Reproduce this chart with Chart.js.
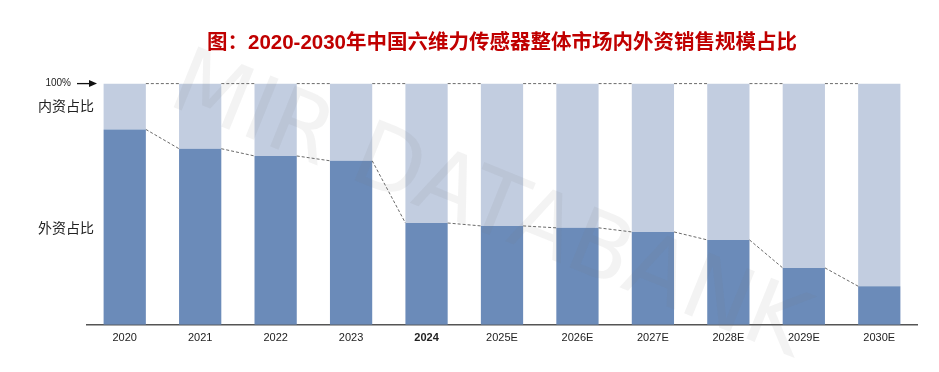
<!DOCTYPE html>
<html>
<head>
<meta charset="utf-8">
<script src="https://cdn.jsdelivr.net/npm/chart.js@4"></script>
<style>
  html, body { margin: 0; padding: 0; background: #fff; }
  #wrap { width: 939px; height: 372px; }
</style>
</head>
<body>
<div id="wrap"><canvas id="chart"></canvas></div>
<script>
const years = ["2020", "2021", "2022", "2023", "2024", "2025E", "2026E", "2027E", "2028E", "2029E", "2030E"];
// foreign share (%)
const foreignShare = [81, 73, 70, 68, 42.2, 41, 40.2, 38.5, 35.2, 23.6, 16];
const domesticShare = foreignShare.map((v) => 100 - v);

const titleText = "图：2020-2030年中国六维力传感器整体市场内外资销售规模占比";

// dashed connectors + left side labels + watermark
const extras = {
  id: "extras",
  afterDatasetsDraw(chart) {
    const ctx = chart.ctx;
    const dark = chart.getDatasetMeta(0).data;
    const light = chart.getDatasetMeta(1).data;
    ctx.save();
    ctx.strokeStyle = "#444";
    ctx.lineWidth = 0.8;
    ctx.setLineDash([3, 2]);
    for (let i = 0; i < dark.length - 1; i++) {
      const a = dark[i], b = dark[i + 1];
      const hw = a.width / 2;
      ctx.beginPath();
      ctx.moveTo(a.x + hw, a.y);
      ctx.lineTo(b.x - hw, b.y);
      ctx.stroke();
      const la = light[i], lb = light[i + 1];
      ctx.beginPath();
      ctx.moveTo(la.x + hw, la.y);
      ctx.lineTo(lb.x - hw, lb.y);
      ctx.stroke();
    }
    ctx.restore();

    // watermark
    ctx.save();
    ctx.translate(488, 209);
    ctx.rotate(22 * Math.PI / 180);
    ctx.font = "90px 'DejaVu Sans', sans-serif";
    ctx.fillStyle = "rgba(120,120,120,0.09)";
    ctx.textAlign = "center";
    ctx.textBaseline = "middle";
    ctx.fillText("MIR DATABANK", 0, 0);
    ctx.restore();

    // left labels
    const y = chart.scales.y;
    const top = y.getPixelForValue(100);
    ctx.save();
    ctx.fillStyle = "#222";
    ctx.textBaseline = "middle";
    ctx.font = "10px 'Liberation Sans', Arial, sans-serif";
    ctx.textAlign = "right";
    ctx.fillText("100%", 71, top);
    ctx.strokeStyle = "#111";
    ctx.lineWidth = 1.3;
    ctx.beginPath();
    ctx.moveTo(77, top);
    ctx.lineTo(92, top);
    ctx.stroke();
    ctx.fillStyle = "#111";
    ctx.beginPath();
    ctx.moveTo(97, top);
    ctx.lineTo(89, top - 3.5);
    ctx.lineTo(89, top + 3.5);
    ctx.closePath();
    ctx.fill();
    ctx.fillStyle = "#222";
    ctx.font = "14px 'Noto Sans CJK SC', sans-serif";
    ctx.textAlign = "center";
    ctx.fillText("内资占比", 66, 106);
    ctx.fillText("外资占比", 66, 228);
    ctx.restore();
  }
};

new Chart(document.getElementById("chart"), {
  type: "bar",
  data: {
    labels: years,
    datasets: [
      {
        label: "外资占比",
        data: foreignShare,
        backgroundColor: "#6b8bb9",
        barPercentage: 0.56,
        categoryPercentage: 1
      },
      {
        label: "内资占比",
        data: domesticShare,
        backgroundColor: "#c2cde0",
        barPercentage: 0.56,
        categoryPercentage: 1
      }
    ]
  },
  options: {
    responsive: true,
    maintainAspectRatio: false,
    animation: false,
    layout: { padding: { left: 87, right: 22, top: 0, bottom: 20 } },
    plugins: {
      legend: { display: false },
      tooltip: { enabled: false },
      title: {
        display: true,
        text: titleText,
        color: "#c00000",
        font: { size: 20.5, weight: "bold", family: "'Liberation Sans', 'Noto Sans CJK SC', sans-serif" },
        padding: { top: 31, bottom: 28 }
      }
    },
    scales: {
      x: {
        stacked: true,
        grid: { display: false, drawTicks: false },
        border: { display: true, color: "#555", width: 1.5 },
        ticks: {
          padding: 7,
          color: "#222",
          font: (c) => ({
            size: 11,
            family: "'Liberation Sans', Arial, sans-serif",
            weight: years[c.index] === "2024" ? "bold" : "normal"
          })
        }
      },
      y: {
        stacked: true,
        display: false,
        min: 0,
        max: 100
      }
    }
  },
  plugins: [extras]
});
</script>
</body>
</html>
